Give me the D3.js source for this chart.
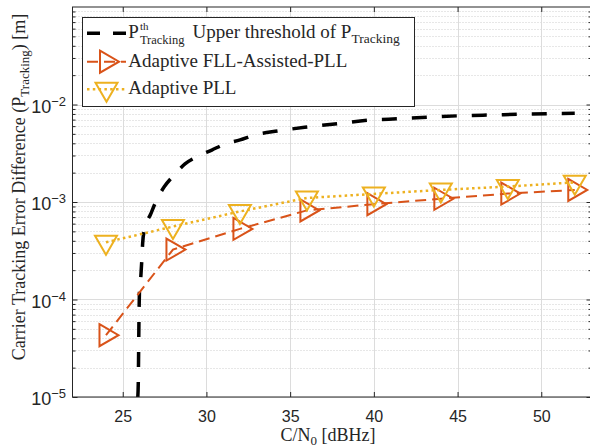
<!DOCTYPE html>
<html lang="en">
<head>
<meta charset="UTF-8">
<title>Carrier tracking error difference</title>
<script src="https://d3js.org/d3.v7.min.js"></script>
<style>
  body { margin: 0; background: #fff; }
  .tick text { font-family: "Liberation Sans", Arial, sans-serif; font-size: 16px; fill: #262626; }
  .latex { font-family: "Liberation Serif", "Times New Roman", serif; fill: #262626; }
</style>
</head>
<body>
<div id="chart"></div>
<script>
// C/N0 values where both loops were evaluated
const cn0 = [24, 28, 32, 36, 40, 44, 48, 52];
const fllAssistedPll = [4.3e-5, 3.25e-4, 5.3e-4, 8.2e-4, 9.5e-4, 1.08e-3, 1.22e-3, 1.33e-3];
const adaptivePll = [3.86e-4, 5.6e-4, 8.0e-4, 1.10e-3, 1.21e-3, 1.33e-3, 1.44e-3, 1.59e-3];

// upper threshold curve
const thresholdCn0 = [25.90, 25.93, 25.95, 25.97, 26.00, 26.08, 26.14, 26.19, 26.29, 26.67, 27.03, 27.49, 28.02, 28.72,
  29.42, 30.32, 31.11, 32.01, 32.90, 34.25, 36.04, 37.88, 39.68, 41.52, 43.33, 45.18, 46.97, 48.82, 50.67, 52];
const thresholdValue = [1.0e-5, 1.43e-5, 2.96e-5, 6.17e-5, 1.22e-4, 1.71e-4, 2.54e-4, 3.77e-4, 5.16e-4, 7.53e-4, 1.05e-3,
  1.44e-3, 1.85e-3, 2.46e-3, 2.91e-3, 3.41e-3, 3.94e-3, 4.33e-3, 4.87e-3, 5.35e-3, 5.88e-3, 6.38e-3, 6.90e-3, 7.15e-3,
  7.41e-3, 7.67e-3, 7.80e-3, 7.94e-3, 8.05e-3, 8.12e-3];

const xTicks = [25, 30, 35, 40, 45, 50];
const yTicks = [1e-5, 1e-4, 1e-3, 1e-2];
const xDomain = [22, 53];
const yDomain = [1e-5, 1e-1];

const width = 590, height = 448;
const plotLeft = 72.5, plotRight = 591.5, plotTop = 7, plotBottom = 397;
const axisColor = "#262626";

const svg = d3.select("#chart").append("svg")
  .attr("width", width)
  .attr("height", height)
  .style("display", "block");

const x = d3.scaleLinear().domain(xDomain).range([plotLeft, plotRight]);
const y = d3.scaleLog().domain(yDomain).range([plotBottom, plotTop]);

// minor decade values 2..9 x 10^k
const minorY = [];
for (let e = -5; e <= -2; e++) {
  for (let k = 2; k <= 9; k++) minorY.push(k * Math.pow(10, e));
}

// grid
const grid = svg.append("g");
grid.selectAll(".minor").data(minorY).enter().append("line")
  .attr("x1", plotLeft).attr("x2", plotRight)
  .attr("y1", d => Math.round(y(d)) + 0.5).attr("y2", d => Math.round(y(d)) + 0.5)
  .attr("stroke", "#cfcfcf").attr("stroke-width", 1).attr("stroke-dasharray", "1,2");
grid.selectAll(".majorY").data(yTicks).enter().append("line")
  .attr("x1", plotLeft).attr("x2", plotRight)
  .attr("y1", d => Math.round(y(d)) + 0.5).attr("y2", d => Math.round(y(d)) + 0.5)
  .attr("stroke", "#dcdcdc").attr("stroke-width", 1);
grid.selectAll(".majorX").data(xTicks).enter().append("line")
  .attr("x1", d => Math.round(x(d)) + 0.5).attr("x2", d => Math.round(x(d)) + 0.5)
  .attr("y1", plotTop).attr("y2", plotBottom)
  .attr("stroke", "#dcdcdc").attr("stroke-width", 1);

// series
const plot = svg.append("g");

const thresholdLine = d3.line()
  .x((d, i) => x(thresholdCn0[i]))
  .y(d => y(d))
  .curve(d3.curveMonotoneX);

plot.append("path")
  .datum(thresholdValue)
  .attr("fill", "none")
  .attr("stroke", "#000")
  .attr("stroke-width", 3.5)
  .attr("stroke-dasharray", "15,15")
  .attr("d", thresholdLine);

const seriesLine = d3.line()
  .x((d, i) => x(cn0[i]))
  .y(d => y(d));

const triRight = "M-6.5,-11L12.5,0L-6.5,11Z";
const triDown = "M-11,-6.5L11,-6.5L0,12.5Z";

const series = [
  { values: fllAssistedPll, color: "#D95319", width: 2, dash: "11,6", marker: triRight },
  { values: adaptivePll, color: "#EDB120", width: 2.5, dash: "2.5,3.3", marker: triDown }
];

series.forEach(s => {
  plot.append("path")
    .datum(s.values)
    .attr("fill", "none")
    .attr("stroke", s.color)
    .attr("stroke-width", s.width)
    .attr("stroke-dasharray", s.dash)
    .attr("d", seriesLine);
  plot.selectAll(null).data(s.values).enter().append("path")
    .attr("transform", (d, i) => `translate(${x(cn0[i])},${y(d)})`)
    .attr("d", s.marker)
    .attr("fill", "none")
    .attr("stroke", s.color)
    .attr("stroke-width", 2)
    .attr("stroke-linejoin", "miter");
});

// axes (MATLAB style box with inward ticks)
const axes = svg.append("g").style("color", axisColor);

const xBottom = axes.append("g")
  .attr("transform", `translate(0,${plotBottom})`)
  .call(d3.axisBottom(x).tickValues(xTicks).tickSizeInner(-5).tickSizeOuter(0).tickPadding(14));
xBottom.select(".domain").remove();

axes.append("g")
  .attr("transform", `translate(0,${plotTop})`)
  .call(d3.axisTop(x).tickValues(xTicks).tickSizeInner(-5).tickSizeOuter(0).tickFormat(""))
  .select(".domain").remove();

[[plotLeft, d3.axisLeft], [plotRight, d3.axisRight]].forEach(([pos, maker]) => {
  axes.append("g")
    .attr("transform", `translate(${pos},0)`)
    .call(maker(y).tickValues(yTicks).tickSizeInner(-5).tickSizeOuter(0).tickFormat(""))
    .select(".domain").remove();
  axes.append("g")
    .attr("transform", `translate(${pos},0)`)
    .call(maker(y).tickValues(minorY).tickSizeInner(-3).tickSizeOuter(0).tickFormat(""))
    .select(".domain").remove();
});

axes.append("rect")
  .attr("x", plotLeft).attr("y", plotTop)
  .attr("width", plotRight - plotLeft).attr("height", plotBottom - plotTop)
  .attr("fill", "none").attr("stroke", axisColor).attr("stroke-width", 1);

// y tick labels 10^k
const yLabels = axes.selectAll(".ylab").data(yTicks).enter().append("text")
  .attr("x", 66)
  .attr("y", d => y(d) + 8)
  .attr("text-anchor", "end")
  .style("font-family", "'Liberation Sans', Arial, sans-serif")
  .style("font-size", "18px")
  .attr("fill", axisColor);
yLabels.append("tspan").text("10");
yLabels.append("tspan")
  .attr("dy", -7)
  .style("font-size", "13px")
  .text(d => "\u2212" + Math.round(-Math.log10(d)));

// axis titles
const xTitle = svg.append("text").attr("class", "latex")
  .attr("x", 328).attr("y", 441)
  .attr("text-anchor", "middle")
  .style("font-size", "18px");
xTitle.append("tspan").text("C/N");
xTitle.append("tspan").attr("dy", 4).style("font-size", "13px").text("0");
xTitle.append("tspan").attr("dy", -4).text(" [dBHz]");

const yTitle = svg.append("text").attr("class", "latex")
  .attr("transform", "translate(25,187) rotate(-90)")
  .attr("text-anchor", "middle")
  .style("font-size", "18px");
yTitle.append("tspan").text("Carrier Tracking Error Difference (P");
yTitle.append("tspan").attr("dy", 4).style("font-size", "13px").text("Tracking");
yTitle.append("tspan").attr("dy", -4).text(") [m]");

// legend
const legend = svg.append("g");
legend.append("rect")
  .attr("x", 82.5).attr("y", 17.5).attr("width", 332).attr("height", 89)
  .attr("fill", "#fff").attr("stroke", axisColor).attr("stroke-width", 1);

const rowY = [33.3, 61.7, 89.3];
const sampleX = [87, 126];

legend.append("line")
  .attr("x1", sampleX[0]).attr("x2", sampleX[1]).attr("y1", rowY[0]).attr("y2", rowY[0])
  .attr("stroke", "#000").attr("stroke-width", 3.5).attr("stroke-dasharray", "13,13");

series.forEach((s, i) => {
  legend.append("line")
    .attr("x1", sampleX[0]).attr("x2", sampleX[1]).attr("y1", rowY[i + 1]).attr("y2", rowY[i + 1])
    .attr("stroke", s.color).attr("stroke-width", s.width).attr("stroke-dasharray", s.dash);
  legend.append("path")
    .attr("transform", `translate(${(sampleX[0] + sampleX[1]) / 2},${rowY[i + 1]})`)
    .attr("d", s.marker)
    .attr("fill", "none").attr("stroke", s.color).attr("stroke-width", 2);
});

// first entry: P^th_Tracking Upper threshold of P_Tracking, scripts stacked in one text
const textX = 128.3;
const base1 = 38.3;
const entry1 = legend.append("text").attr("class", "latex")
  .attr("x", textX).attr("y", base1).style("font-size", "19px");
const pSpan = entry1.append("tspan").text("P");
const scriptX = textX + pSpan.node().getComputedTextLength() + 1;
entry1.append("tspan").attr("x", scriptX).attr("dy", -8).style("font-size", "11px").text("th");
entry1.append("tspan").attr("x", scriptX).attr("dy", 14).style("font-size", "12.5px").text("Tracking");
entry1.append("tspan").attr("dx", 8).attr("dy", -6).text("Upper threshold of P");
entry1.append("tspan").attr("dy", 4.5).style("font-size", "13.5px").text("Tracking");

legend.append("text").attr("class", "latex")
  .attr("x", textX).attr("y", 66.7).style("font-size", "19px").text("Adaptive FLL-Assisted-PLL");
legend.append("text").attr("class", "latex")
  .attr("x", textX).attr("y", 94.3).style("font-size", "19px").text("Adaptive PLL");
</script>
</body>
</html>
